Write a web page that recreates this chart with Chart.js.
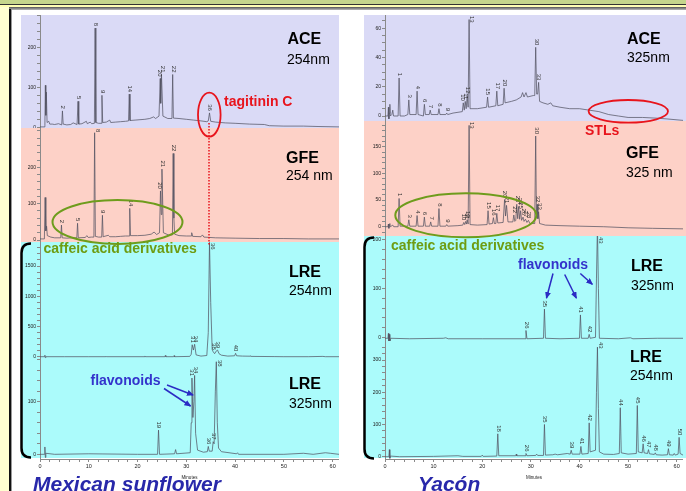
<!DOCTYPE html>
<html><head><meta charset="utf-8">
<script src="https://cdn.jsdelivr.net/npm/chart.js@4.4.1/dist/chart.umd.min.js"></script>
<style>
html,body{margin:0;padding:0;width:686px;height:491px;overflow:hidden;background:#fff;font-family:"Liberation Sans",Arial,sans-serif;}
.abs{position:absolute;}
canvas{position:absolute;}
.t{position:absolute;white-space:nowrap;line-height:1;}
.b{font-weight:bold;font-size:16px;color:#000;}
.n{font-size:14px;color:#000;}
</style></head><body>
<!-- frame decoration -->
<div class="abs" style="left:0;top:0;width:686px;height:4px;background:#c6d68c"></div>
<div class="abs" style="left:0;top:4px;width:686px;height:1px;background:#333"></div>
<div class="abs" style="left:0;top:5px;width:686px;height:2px;background:#ffffb4"></div>
<div class="abs" style="left:0;top:7px;width:686px;height:3px;background:linear-gradient(#555,#bbb)"></div>
<div class="abs" style="left:0;top:7px;width:9px;height:484px;background:#ffffd0"></div>
<div class="abs" style="left:9px;top:9px;width:2px;height:482px;background:#111"></div>
<div class="abs" style="left:11px;top:9px;width:1px;height:482px;background:#999"></div>
<!-- bands -->
<div class="abs" style="left:21px;top:15px;width:318px;height:113px;background:#dadaf6"></div>
<div class="abs" style="left:21px;top:128px;width:318px;height:114px;background:#fdd1c7"></div>
<div class="abs" style="left:21px;top:242px;width:318px;height:216px;background:#abfbfb"></div>
<div class="abs" style="left:364px;top:15px;width:322px;height:106px;background:#dadaf6"></div>
<div class="abs" style="left:364px;top:121px;width:322px;height:115px;background:#fdd1c7"></div>
<div class="abs" style="left:364px;top:236px;width:322px;height:222px;background:#abfbfb"></div>

<canvas id="cL1" width="324" height="113" style="left:15px;top:15px"></canvas>
<canvas id="cL2" width="324" height="114" style="left:15px;top:128px"></canvas>
<canvas id="cL3" width="324" height="117" style="left:15px;top:242px"></canvas>
<canvas id="cL4" width="324" height="121" style="left:15px;top:359px"></canvas>
<canvas id="cR1" width="323" height="106" style="left:360px;top:15px"></canvas>
<canvas id="cR2" width="323" height="115" style="left:360px;top:121px"></canvas>
<canvas id="cR3" width="323" height="105" style="left:360px;top:236px"></canvas>
<canvas id="cR4" width="323" height="139" style="left:360px;top:341px"></canvas>

<svg class="abs" style="left:0;top:0" width="686" height="491">
<defs><marker id="ah" markerWidth="7" markerHeight="6" refX="6" refY="3" orient="auto" markerUnits="userSpaceOnUse"><path d="M0,0 L7,3 L0,6 z" fill="#2b2bc4"/></marker></defs>
<ellipse cx="209.3" cy="114.7" rx="11.3" ry="22" fill="none" stroke="#e8141c" stroke-width="1.8"/>
<line x1="209" y1="123" x2="209" y2="246" stroke="#e8141c" stroke-width="1.5" stroke-dasharray="1.5 1.5"/>
<ellipse cx="117.5" cy="222" rx="65" ry="22" fill="none" stroke="#6e9c1c" stroke-width="2"/>
<ellipse cx="628.3" cy="111.3" rx="39.7" ry="11.3" fill="none" stroke="#e8141c" stroke-width="1.8"/>
<ellipse cx="465.8" cy="215.3" rx="70.5" ry="22" fill="none" stroke="#6e9c1c" stroke-width="2"/>
<g stroke="#2b2bc4" stroke-width="1.5" fill="none">
<line x1="167" y1="385" x2="193" y2="395" marker-end="url(#ah)"/>
<line x1="164" y1="388.5" x2="190.5" y2="406" marker-end="url(#ah)"/>
<line x1="553" y1="273.5" x2="546.5" y2="298" marker-end="url(#ah)"/>
<line x1="564.7" y1="274.5" x2="576.3" y2="298" marker-end="url(#ah)"/>
<line x1="580.3" y1="273.5" x2="592.3" y2="284.3" marker-end="url(#ah)"/>
</g>
<path d="M31 243.5 Q21.5 243.5 21.5 253 L21.5 448 Q21.5 457.5 31 457.5" fill="none" stroke="#000" stroke-width="2.5"/>
<path d="M374 237.5 Q364.5 237.5 364.5 247 L364.5 449 Q364.5 458.5 374 458.5" fill="none" stroke="#000" stroke-width="2.5"/>
</svg>

<div class="t b" style="left:287.5px;top:31.3px">ACE</div>
<div class="t n" style="left:287px;top:51.5px">254nm</div>
<div class="t" style="left:224px;top:94px;font-size:14px;font-weight:bold;color:#e8141c">tagitinin C</div>
<div class="t b" style="left:286px;top:149.7px">GFE</div>
<div class="t n" style="left:286px;top:168.2px">254 nm</div>
<div class="t" style="left:43.5px;top:241.2px;font-size:14px;font-weight:bold;color:#6e9c12">caffeic acid derivatives</div>
<div class="t b" style="left:289px;top:263.7px">LRE</div>
<div class="t n" style="left:289px;top:283.2px">254nm</div>
<div class="t" style="left:90.5px;top:372.5px;font-size:14px;font-weight:bold;color:#3333cc">flavonoids</div>
<div class="t b" style="left:289px;top:375.7px">LRE</div>
<div class="t n" style="left:289px;top:395.9px">325nm</div>

<div class="t b" style="left:627px;top:31.3px">ACE</div>
<div class="t n" style="left:627px;top:49.9px">325nm</div>
<div class="t" style="left:585px;top:123.2px;font-size:14px;font-weight:bold;color:#e8141c">STLs</div>
<div class="t b" style="left:626px;top:144.7px">GFE</div>
<div class="t n" style="left:626px;top:164.9px">325 nm</div>
<div class="t" style="left:391px;top:237.7px;font-size:14px;font-weight:bold;color:#6e9c12">caffeic acid derivatives</div>
<div class="t" style="left:518px;top:256.5px;font-size:14px;font-weight:bold;color:#3333cc">flavonoids</div>
<div class="t b" style="left:631px;top:258px">LRE</div>
<div class="t n" style="left:631px;top:278.2px">325nm</div>
<div class="t b" style="left:630px;top:349px">LRE</div>
<div class="t n" style="left:630px;top:368.2px">254nm</div>

<div class="t" style="left:33px;top:473.3px;font-size:21px;font-weight:bold;font-style:italic;color:#2828aa">Mexican sunflower</div>
<div class="t" style="left:418px;top:473.3px;font-size:21px;font-weight:bold;font-style:italic;color:#2828aa">Yacón</div>

<script>
// ---- data: retention time (min) vs detector response ----
const X_MAX = 61.3;
const X_TICKS = [0, 10, 20, 30, 40, 50, 60];

// Mexican sunflower, ACE extract, 254 nm
const sunACE = [[0,1],[0.9,1],[1.0,4],[1.1,105],[1.2,30],[1.3,88],[1.45,12],[1.8,15],[2.0,8],[2.5,8],[3.0,7],[3.8,9],[4.45,6],[4.6,41],[4.75,8],[5.5,6],[6.3,7],[6.8,11],[7.6,7],[7.8,65],[7.95,8],[8.6,9],[9.5,15],[9.7,9],[10.3,13],[10.6,9],[11.15,10],[11.3,248],[11.45,12],[12.0,10],[12.55,10],[12.7,80],[12.85,12],[13.6,13],[14.3,18],[14.5,12],[15.5,13],[16.5,14],[17.5,15],[18.15,16],[18.3,83],[18.45,17],[19.5,18],[20.5,19],[21.5,20],[22.5,22],[23.3,26],[23.7,22],[24.4,28],[24.65,122],[24.75,60],[24.9,132],[25.2,28],[26.2,22],[27.05,22],[27.2,132],[27.35,23],[28.5,22],[30,20],[31.5,18],[33,16],[34.2,14],[34.5,16],[34.75,36],[35.0,15],[36,13],[38,11],[40,10],[43,8],[46,7],[47,4],[50,3],[54,3],[57,2],[61.3,1]];
const sunACE_pk = [[4.6,41,'2'],[7.8,65,'5'],[11.3,248,'8'],[12.7,80,'9'],[18.3,83,'14'],[24.45,122,'20'],[24.95,132,'21'],[27.2,132,'22'],[34.75,36,'36']];

// Mexican sunflower, GFE extract, 254 nm
const sunGFE = [[0,3],[0.9,3],[1.05,117],[1.2,25],[1.35,38],[1.5,12],[2.2,8],[3,6],[4.25,6],[4.4,41],[4.55,6],[5.5,5],[6.5,6],[7.55,6],[7.7,46],[7.85,6],[9.3,7],[9.6,12],[9.9,7],[10.5,8],[11.05,8],[11.2,295],[11.35,10],[12.0,8],[12.65,8],[12.8,68],[12.95,9],[14.0,13],[14.3,9],[15.5,9],[16.5,10],[17.5,11],[18.25,11],[18.4,87],[18.55,12],[20,12],[21.5,13],[22.8,16],[23.4,22],[23.9,15],[24.5,20],[24.7,135],[24.85,70],[25.0,195],[25.3,20],[26.3,14],[27.15,14],[27.3,238],[27.45,60],[27.6,16],[28.5,12],[30,11],[31,11],[31.1,20],[31.3,10],[33,9],[33.3,14],[33.6,8],[36,6],[40,5],[45,4],[50,4],[55,3],[61.3,3]];
const sunGFE_pk = [[4.4,41,'2'],[7.7,46,'5'],[11.2,295,'8'],[12.8,68,'9'],[18.4,87,'14'],[24.5,135,'20'],[25.05,195,'21'],[27.3,238,'22']];

// Mexican sunflower, LRE extract, 254 nm
const sunLRE254 = [[0,0],[0.9,0],[1.0,25],[1.1,-15],[1.2,0],[5,0],[10,0],[13.4,0],[13.5,8],[13.6,0],[21.4,0],[21.5,12],[21.6,0],[25.6,0],[25.7,20],[25.8,0],[27.4,0],[27.5,18],[27.6,0],[30.7,5],[31.0,40],[31.2,198],[31.45,110],[31.7,205],[32.0,30],[33,10],[34.2,20],[34.5,400],[34.75,1890],[35.0,900],[35.3,120],[35.5,82],[35.8,50],[36.2,100],[36.4,110],[36.7,50],[37.2,25],[38.5,10],[39.9,15],[40.1,56],[40.3,15],[41.5,10],[43.1,8],[43.2,15],[43.3,5],[48,2],[50,0],[55,0],[58,5],[58.5,0],[61.3,0]];
const sunLRE254_pk = [[31.2,198,'31'],[31.75,205,'34'],[34.75,1890,'36'],[35.5,82,'38'],[36.4,110,'39'],[40.1,56,'40']];

// Mexican sunflower, LRE extract, 325 nm
const sunLRE325 = [[0,0],[0.9,0],[1.0,14],[1.1,-6],[1.2,2],[3,0],[10,1],[20,0],[24.1,0],[24.3,46],[24.5,0],[27.6,1],[27.8,9],[28.0,1],[30.8,3],[31.0,60],[31.15,145],[31.35,70],[31.55,100],[31.7,150],[31.9,40],[32.3,8],[33.5,4],[34.3,5],[34.5,15],[34.7,6],[35.3,6],[35.5,24],[35.7,20],[35.95,120],[36.15,176],[36.35,60],[36.6,12],[37.2,5],[40.3,1],[40.5,3],[40.7,0],[50,0],[54,2],[56,0],[58.5,3],[59.5,2],[61.3,0]];
const sunLRE325_pk = [[24.3,46,'19'],[31.05,145,'31'],[31.8,150,'34'],[34.5,15,'36'],[35.5,24,'37'],[36.15,176,'38']];

// Yacon, ACE extract, 325 nm
const yacACE = [[0,0],[0.6,0],[0.7,6],[0.8,-2],[0.9,2],[1.0,8],[1.1,0],[1.4,1],[1.6,4],[1.75,0],[2.7,0],[2.9,26],[3.1,0],[4.0,0],[4.7,1],[4.9,11],[5.1,1],[6.4,1],[6.6,17],[6.8,1],[7.9,0],[8.1,8],[8.3,1],[9.1,1],[9.3,4],[9.5,1],[10.9,1],[11.1,5],[11.3,1],[12.5,1],[12.7,2],[12.9,1],[14,2],[15.9,3],[16.1,9],[16.3,4],[16.5,10],[16.7,5],[16.9,14],[17.1,6],[17.3,66],[17.5,5],[19,5],[20.9,6],[21.1,13],[21.3,6],[22.8,7],[23.0,17],[23.2,7],[24.3,8],[24.5,19],[24.7,9],[26,10],[27,11],[28,13],[28.3,16],[28.6,13],[29.0,16],[29.3,13],[30.5,14],[30.8,14],[31.0,47],[31.2,15],[31.4,15],[31.6,23],[31.8,10],[32.5,9],[33.5,8],[34.1,9],[34.5,7],[36,6],[38,5],[40,5],[42,4],[44,3],[46,1],[48,0],[50,-1],[53,-1],[56,-1.5],[58,-2],[61.3,-3]];
const yacACE_pk = [[2.9,26,'1'],[4.9,11,'3'],[6.6,17,'4'],[8.1,8,'6'],[9.3,4,'7'],[11.1,5,'8'],[12.7,2,'9'],[15.9,9,'10'],[16.5,10,'11'],[17.0,14,'12'],[17.3,66,'13'],[21.1,13,'15'],[23.0,17,'17'],[24.5,19,'20'],[31.0,47,'30'],[31.6,23,'33']];

// Yacon, GFE extract, 325 nm
const yacGFE = [[0,0],[0.6,0],[0.7,5],[0.8,-3],[1.0,6],[1.1,0],[1.6,3],[1.8,0],[2.7,0],[2.9,53],[3.1,1],[4.7,1],[4.9,13],[5.1,1],[6.4,1],[6.6,21],[6.8,1],[7.9,1],[8.1,18],[8.3,1],[9.2,1],[9.4,9],[9.6,1],[10.9,1],[11.1,34],[11.3,1],[12.5,1],[12.7,4],[12.9,1],[15,2],[16.0,3],[16.2,8],[16.4,4],[16.6,10],[16.75,5],[16.9,13],[17.1,5],[17.3,190],[17.5,4],[19,3],[21.0,4],[21.2,30],[21.4,5],[22.1,6],[22.3,17],[22.5,6],[22.8,6],[23.0,25],[23.2,7],[24.3,8],[24.6,51],[24.8,20],[25.0,40],[25.3,9],[26.3,9],[26.5,22],[26.7,10],[26.9,12],[27.1,42],[27.3,15],[27.5,38],[27.7,14],[27.9,30],[28.1,12],[28.4,18],[28.6,10],[28.9,14],[29.2,8],[29.5,12],[29.8,6],[30.8,6],[31.0,170],[31.15,20],[31.3,42],[31.45,15],[31.6,28],[31.8,6],[33,3],[36,2],[40,1],[45,0],[50,-2],[55,-3],[61.3,-4]];
const yacGFE_pk = [[2.9,53,'1'],[4.9,13,'3'],[6.6,21,'4'],[8.1,18,'6'],[9.4,9,'7'],[11.1,34,'8'],[12.7,4,'9'],[16.0,8,'10'],[16.6,10,'11'],[17.0,13,'12'],[17.3,190,'13'],[21.2,30,'15'],[22.2,17,'16'],[23.0,25,'17'],[24.6,51,'20'],[25.0,40,'21'],[26.5,22,'22'],[27.1,42,'23'],[27.5,38,'24'],[27.9,30,'25'],[28.4,18,'26'],[28.9,14,'27'],[29.5,12,'28'],[31.0,170,'30'],[31.35,42,'32'],[31.7,28,'33']];

// Yacon, LRE extract, 325 nm
const yacLRE325 = [[0,-2],[0.6,-2],[0.7,8],[0.8,-14],[0.9,6],[1.0,-8],[1.2,-2],[5,-3],[12,-2],[12.5,-1],[13,-3],[20,-3],[28.8,-3],[29.0,14],[29.2,-3],[32.6,-2],[32.8,58],[33.0,-2],[36,-3],[40.0,-2],[40.2,46],[40.4,-2],[41.8,-2],[42.0,6],[42.2,-2],[43.3,0],[43.5,120],[43.7,230],[43.9,100],[44.1,-2],[48,-3],[50.5,-1],[51,-3],[56,-2],[61.3,-2]];
const yacLRE325_pk = [[29.0,14,'26'],[32.8,58,'35'],[40.2,46,'41'],[42.0,6,'42'],[43.7,230,'43']];

// Yacon, LRE extract, 254 nm
const yacLRE254 = [[0,0],[0.8,0],[0.9,22],[1.0,-5],[1.1,2],[3,0],[10,1],[15,3],[16,1],[19.8,1],[20,5],[20.2,1],[23.0,2],[23.2,71],[23.4,3],[26.9,3],[27,8],[27.1,3],[28.8,3],[29.0,10],[29.2,3],[31,4],[31.2,8],[31.4,4],[32.6,4],[32.8,100],[33.0,5],[34.5,6],[35,8],[35.5,6],[37.5,10],[38.1,8],[38.3,20],[38.5,8],[40.1,8],[40.3,32],[40.5,8],[41.8,10],[42.0,105],[42.2,15],[43.3,20],[43.5,200],[43.7,340],[43.9,150],[44.1,15],[45,8],[47,7],[48.2,10],[48.4,152],[48.6,12],[50,8],[51.7,10],[51.9,159],[52.1,15],[52.9,12],[53.1,40],[53.3,12],[54.0,10],[54.2,22],[54.4,9],[55.4,7],[55.6,12],[55.8,6],[57,5],[58.1,6],[58.3,25],[58.5,6],[59.3,5],[59.5,10],[59.7,5],[60.3,8],[60.5,60],[60.7,10],[61.3,5]];
const yacLRE254_pk = [[23.2,71,'18'],[29.0,10,'26'],[32.8,100,'35'],[38.3,20,'39'],[40.3,32,'41'],[42.0,105,'42'],[43.7,340,'43'],[48.4,152,'44'],[51.9,159,'45'],[53.1,40,'46'],[54.2,22,'47'],[55.6,12,'48'],[58.3,25,'49'],[60.5,60,'50']];

// y-axis tick labels shown per panel
const sunACE_ticks = [0, 100, 200];
const sunGFE_ticks = [0, 100, 200];
const sunLRE254_ticks = [0, 500, 1000, 1500];
const sunLRE325_ticks = [0, 100];
const yacACE_ticks = [0, 20, 40, 60];
const yacGFE_ticks = [0, 50, 100, 150];
const yacLRE325_ticks = [0, 100, 200];
const yacLRE254_ticks = [0, 100, 200, 300];

// ---- rendering ----
const FF = '"Liberation Sans", Arial, sans-serif';
const AX = '#8a8a8a';
const TRACE = 'rgba(80,80,95,0.72)';
const PEAKS = {};

const peakLabelPlugin = {
  id: 'peakLabels',
  afterDatasetsDraw(chart) {
    const items = PEAKS[chart.canvas.id] || [];
    const {ctx, chartArea: a} = chart;
    const x = chart.scales.x, y = chart.scales.y;
    ctx.save();
    ctx.font = '6px ' + FF;
    ctx.fillStyle = '#333';
    ctx.textBaseline = 'middle';
    for (const [t, v, txt] of items) {
      const px = x.getPixelForValue(t);
      const py = Math.max(y.getPixelForValue(v), a.top);
      const w = ctx.measureText(txt).width;
      ctx.save();
      if (py - 2 - w < a.top) {
        ctx.translate(px + 3, a.top + 1);
        ctx.rotate(Math.PI / 2);
        ctx.textAlign = 'left';
      } else {
        ctx.translate(px + 0.5, py - 2);
        ctx.rotate(Math.PI / 2);
        ctx.textAlign = 'right';
      }
      ctx.fillText(txt, 0, 0);
      ctx.restore();
    }
    ctx.restore();
  }
};
Chart.register(peakLabelPlugin);

function makeChart(id, trace, peaks, yMin, yMax, yStep, yLabels, showX) {
  PEAKS[id] = peaks;
  new Chart(document.getElementById(id), {
    type: 'line',
    data: { datasets: [{ data: trace, borderColor: TRACE, borderWidth: 1, pointRadius: 0, tension: 0, fill: false }] },
    options: {
      responsive: false, animation: false, devicePixelRatio: 1, events: [],
      layout: { padding: 0 },
      plugins: { legend: { display: false }, tooltip: { enabled: false } },
      scales: {
        x: {
          type: 'linear', min: 0, max: X_MAX, display: showX, position: 'bottom',
          border: { display: true, color: AX, width: 1 },
          grid: { drawOnChartArea: false, drawTicks: true, tickLength: 3, color: AX },
          ticks: { stepSize: 2, autoSkip: false, includeBounds: false, maxRotation: 0, padding: 1,
                   font: { size: 5.5, family: FF }, color: '#222',
                   callback: v => X_TICKS.includes(Math.round(v * 1000) / 1000) ? String(v) : '' },
          title: { display: true, text: 'Minutes', font: { size: 4.5, family: FF }, color: '#222', padding: { top: 1, bottom: 0 } },
          afterFit: s => { s.height = showX ? 21 : 0; s.paddingLeft = 0; s.paddingRight = 0; }
        },
        y: {
          type: 'linear', min: yMin, max: yMax, position: 'left',
          border: { display: true, color: AX, width: 1 },
          grid: { drawOnChartArea: false, drawTicks: true, tickLength: 3, color: AX },
          ticks: { stepSize: yStep, autoSkip: false, includeBounds: false, padding: 1,
                   font: { size: 5, family: FF }, color: '#222',
                   callback: v => yLabels.includes(Math.round(v * 1000) / 1000) ? String(v) : '' },
          afterFit: s => { s.width = 25; s.paddingTop = 0; s.paddingBottom = 0; }
        }
      }
    }
  });
}

makeChart('cL1', sunACE, sunACE_pk, -1.75, 280.75, 20, sunACE_ticks, false);
makeChart('cL2', sunGFE, sunGFE_pk, -5.5, 308, 20, sunGFE_ticks, false);
makeChart('cL3', sunLRE254, sunLRE254_pk, -38, 1897, 100, sunLRE254_ticks, false);
makeChart('cL4', sunLRE325, sunLRE325_pk, -8.9, 181.2, 20, sunLRE325_ticks, true);
makeChart('cR1', yacACE, yacACE_pk, -3.42, 69.1, 5, yacACE_ticks, false);
makeChart('cR2', yacGFE, yacGFE_pk, -17.4, 198.2, 10, yacGFE_ticks, false);
makeChart('cR3', yacLRE325, yacLRE325_pk, -7.6, 208.2, 20, yacLRE325_ticks, false);
makeChart('cR4', yacLRE254, yacLRE254_pk, -7.1, 359, 20, yacLRE254_ticks, true);
</script>
</body></html>
